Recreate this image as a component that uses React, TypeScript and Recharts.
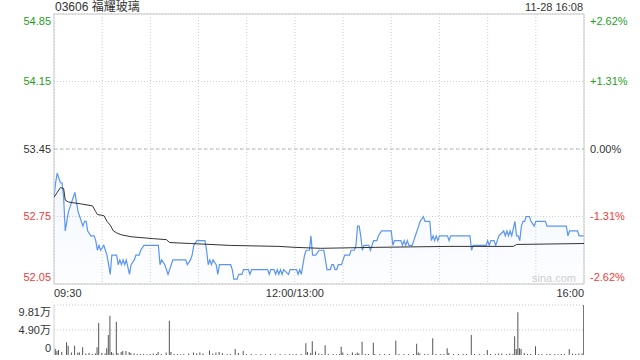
import React from 'react';
import {
  ComposedChart,
  BarChart,
  Area,
  Line,
  Bar,
  XAxis,
  YAxis,
  CartesianGrid,
  ReferenceArea,
  ReferenceLine,
} from 'recharts';

// 03606 福耀玻璃, intraday 11-28
const prevClose = 53.45;

const priceTimes = [
  '09:30', '09:31', '09:32', '09:33', '09:34', '09:35', '09:36', '09:37', '09:39', '09:40',
  '09:42', '09:43', '09:44', '09:45', '09:46', '09:48', '09:49', '09:50', '09:51', '09:53',
  '09:55', '09:56', '09:57', '09:58', '09:59', '10:01', '10:02', '10:03', '10:04', '10:05',
  '10:06', '10:09', '10:10', '10:11', '10:12', '10:13', '10:14', '10:15', '10:17', '10:18',
  '10:20', '10:21', '10:23', '10:24', '10:26', '10:35', '10:36', '10:37', '10:39', '10:41',
  '10:43', '10:44', '10:52', '10:53', '10:55', '10:56', '10:57', '10:59', '11:04', '11:05',
  '11:06', '11:07', '11:08', '11:09', '11:11', '11:12', '11:13', '11:20', '11:21', '11:22',
  '11:24', '11:25', '11:27', '11:28', '11:31', '11:32', '11:33', '11:43', '11:44', '11:45',
  '11:47', '11:48', '11:49', '11:50', '11:51', '11:52', '11:53', '11:56', '11:57', '12:00',
  '13:01', '13:02', '13:03', '13:04', '13:05', '13:06', '13:07', '13:09', '13:10', '13:11',
  '13:13', '13:15', '13:18', '13:19', '13:20', '13:22', '13:23', '13:24', '13:25', '13:26',
  '13:27', '13:29', '13:30', '13:31', '13:34', '13:35', '13:37', '13:38', '13:39', '13:40',
  '13:41', '13:42', '13:43', '13:46', '13:47', '13:48', '13:49', '13:51', '13:52', '13:54',
  '14:00', '14:01', '14:02', '14:06', '14:07', '14:08', '14:09', '14:10', '14:11', '14:13',
  '14:14', '14:15', '14:17', '14:18', '14:20', '14:21', '14:24', '14:25', '14:26', '14:27',
  '14:28', '14:29', '14:30', '14:35', '14:36', '14:37', '14:49', '14:50', '14:51', '14:59',
  '15:00', '15:01', '15:02', '15:04', '15:05', '15:06', '15:07', '15:10', '15:11', '15:12',
  '15:13', '15:14', '15:15', '15:17', '15:18', '15:19', '15:20', '15:21', '15:22', '15:23',
  '15:24', '15:26', '15:27', '15:29', '15:30', '15:36', '15:37', '15:49', '15:50', '15:51',
  '15:56', '15:57', '16:00',
];

const priceValues = [
  52.95, 53.1, 53.2, 53.15, 53.1, 53.1, 52.95, 52.6, 52.8, 52.85,
  52.95, 53.0, 52.9, 52.8, 52.75, 52.65, 52.7, 52.7, 52.6, 52.55,
  52.55, 52.5, 52.4, 52.45, 52.4, 52.45, 52.4, 52.35, 52.25, 52.15,
  52.35, 52.35, 52.25, 52.3, 52.25, 52.3, 52.25, 52.3, 52.15, 52.25,
  52.3, 52.35, 52.35, 52.4, 52.45, 52.45, 52.25, 52.3, 52.25, 52.15,
  52.25, 52.3, 52.3, 52.25, 52.3, 52.35, 52.45, 52.5, 52.5, 52.4,
  52.25, 52.3, 52.25, 52.3, 52.25, 52.15, 52.25, 52.25, 52.2, 52.1,
  52.1, 52.15, 52.15, 52.2, 52.2, 52.15, 52.2, 52.2, 52.15, 52.2,
  52.2, 52.15, 52.2, 52.15, 52.2, 52.15, 52.2, 52.15, 52.2, 52.2,
  52.2, 52.15, 52.2, 52.15, 52.25, 52.35, 52.4, 52.4, 52.55, 52.35,
  52.35, 52.4, 52.4, 52.3, 52.2, 52.2, 52.25, 52.25, 52.2, 52.2,
  52.25, 52.25, 52.3, 52.35, 52.35, 52.4, 52.4, 52.45, 52.65, 52.65,
  52.55, 52.4, 52.45, 52.45, 52.4, 52.45, 52.5, 52.5, 52.55, 52.6,
  52.6, 52.45, 52.5, 52.5, 52.45, 52.5, 52.45, 52.5, 52.45, 52.45,
  52.5, 52.55, 52.65, 52.7, 52.75, 52.7, 52.7, 52.5, 52.55, 52.5,
  52.55, 52.5, 52.55, 52.55, 52.5, 52.55, 52.55, 52.4, 52.45, 52.45,
  52.5, 52.45, 52.5, 52.5, 52.45, 52.5, 52.55, 52.6, 52.55, 52.6,
  52.55, 52.6, 52.55, 52.7, 52.55, 52.55, 52.5, 52.65, 52.7, 52.7,
  52.75, 52.75, 52.7, 52.65, 52.7, 52.7, 52.65, 52.65, 52.55, 52.6,
  52.6, 52.55, 52.55,
];

const avgTimes = [
  '09:30', '09:32', '09:34', '09:36', '09:37', '09:39', '09:47', '09:54', '09:56', '09:57',
  '10:01', '10:03', '10:05', '10:07', '10:09', '10:12', '10:18', '10:32', '10:40', '10:42',
  '10:55', '11:20', '11:50', '12:00', '13:16', '13:50', '14:36', '15:16', '15:18', '16:00',
];
const avgValues = [
  52.95, 53.0, 53.05, 53.04, 52.92, 52.9, 52.88, 52.86, 52.8, 52.77,
  52.76, 52.7, 52.66, 52.6, 52.58, 52.56, 52.54, 52.52, 52.51, 52.48,
  52.47, 52.45, 52.44, 52.43, 52.42, 52.43, 52.44, 52.44, 52.46, 52.47,
];

const volumeTimes = [
  '09:30', '09:31', '09:32', '09:33', '09:35', '09:38', '09:39', '09:41', '09:43', '09:45',
  '09:46', '09:48', '09:50', '09:52', '09:54', '09:56', '09:57', '09:58', '10:00', '10:02',
  '10:03', '10:04', '10:05', '10:06', '10:07', '10:09', '10:10', '10:12', '10:13', '10:15',
  '10:17', '10:18', '10:20', '10:22', '10:24', '10:26', '10:28', '10:30', '10:32', '10:34',
  '10:35', '10:37', '10:40', '10:42', '10:43', '10:45', '10:47', '10:49', '10:51', '10:54',
  '10:57', '10:59', '11:01', '11:03', '11:07', '11:09', '11:11', '11:13', '11:15', '11:18',
  '11:20', '11:23', '11:25', '11:28', '11:30', '11:33', '11:36', '11:39', '11:42', '11:45',
  '11:48', '11:51', '11:54', '11:57', '11:59', '13:01', '13:04', '13:07', '13:08', '13:10',
  '13:11', '13:13', '13:15', '13:17', '13:19', '13:21', '13:24', '13:26', '13:28', '13:29',
  '13:30', '13:33', '13:36', '13:38', '13:39', '13:40', '13:42', '13:44', '13:46', '13:49',
  '13:50', '13:53', '13:56', '13:59', '14:03', '14:05', '14:08', '14:11', '14:14', '14:16',
  '14:17', '14:18', '14:21', '14:23', '14:26', '14:28', '14:31', '14:33', '14:35', '14:36',
  '14:39', '14:42', '14:45', '14:47', '14:50', '14:52', '14:55', '14:58', '15:00', '15:02',
  '15:05', '15:07', '15:09', '15:12', '15:14', '15:16', '15:17', '15:18', '15:19', '15:20',
  '15:21', '15:23', '15:25', '15:27', '15:30', '15:32', '15:34', '15:37', '15:39', '15:42',
  '15:44', '15:46', '15:48', '15:51', '15:53', '15:55', '15:57', '15:59', '16:00',
];
const volumeValues = [
  14000, 12000, 8000, 10000, 6000, 25000, 18000, 5000, 18000, 5000,
  5000, 15000, 3000, 4000, 2000, 3000, 15000, 63000, 4000, 3000,
  13000, 39000, 77000, 6000, 3000, 65000, 4000, 6000, 8000, 8000,
  6000, 4000, 3000, 2000, 2000, 2000, 1500, 2000, 3000, 2000,
  6000, 2000, 5000, 67000, 6000, 2000, 2000, 1500, 2000, 3000,
  5000, 3000, 5000, 3000, 9000, 3000, 5000, 6000, 4000, 2000,
  2000, 12000, 4000, 8000, 2000, 2000, 1500, 2000, 1500, 2000,
  1500, 2000, 1500, 2000, 1500, 2000, 2000, 23000, 6000, 4000,
  27000, 7000, 3000, 2000, 19000, 2000, 2000, 1500, 2000, 16000,
  5000, 2000, 5000, 2000, 5000, 3000, 26000, 2000, 2000, 24000,
  2000, 2000, 2000, 2000, 28000, 2000, 2000, 2000, 2000, 22000,
  5000, 3000, 2000, 2000, 33000, 2000, 2000, 2000, 13000, 4000,
  2000, 2000, 2000, 2000, 39000, 2000, 2000, 1500, 10000, 2000,
  2000, 3000, 3000, 2000, 3000, 2000, 37000, 12000, 84000, 13000,
  12000, 4000, 2000, 2000, 17000, 2000, 2000, 2000, 2000, 2000,
  1500, 2000, 2000, 12000, 3000, 2000, 3000, 3000, 98100,
];

const priceTicks = [52.05, 52.75, 53.45, 54.15, 54.85];
const volumeTicks = [0, 49000, 98100];
const timeTicks = ['09:30', '10:00', '10:30', '11:00', '11:30', '12:00', '13:30', '14:00', '14:30', '15:00', '15:30', '16:00'];
const timeLabels: Record<string, string> = { '09:30': '09:30', '12:00': '12:00/13:00', '16:00': '16:00' };

// trading minutes since open, lunch break removed
const toMinute = (t: string) => {
  const [h, m] = t.split(':').map(Number);
  const v = h * 60 + m;
  return v >= 13 * 60 ? v - 13 * 60 + 150 : v - (9 * 60 + 30);
};

const priceData = priceTimes.map((t, i) => ({ m: toMinute(t), p: priceValues[i] }));
const avgData = avgTimes.map((t, i) => ({ m: toMinute(t), a: avgValues[i] }));
const volumeData = volumeTimes.map((t, i) => ({ m: toMinute(t), v: volumeValues[i] }));
const minuteTicks = timeTicks.map(toMinute);

const FONT = "Arial, 'Liberation Sans', 'Noto Sans CJK SC', sans-serif";
const GREEN = '#1ea01e';
const RED = '#f23a3a';
const TEXT = '#333';
const PLOT_BOTTOM = 284;

const colorFor = (v: number) => (v > prevClose + 1e-6 ? GREEN : v < prevClose - 1e-6 ? RED : TEXT);
const edgeShift = (v: number, lo: number, hi: number) => (v === hi ? 7 : v === lo ? -7 : 0);

const PriceTick = (props: any) => {
  const v = props.payload.value as number;
  return (
    <text x={51} y={props.y + edgeShift(v, 52.05, 54.85)} dy="0.35em" textAnchor="end" fontSize={11} fontFamily={FONT} fill={colorFor(v)}>
      {v.toFixed(2)}
    </text>
  );
};

const PctTick = (props: any) => {
  const v = props.payload.value as number;
  const pct = ((v - prevClose) / prevClose) * 100;
  const label = (pct > 0.0001 ? '+' : '') + pct.toFixed(2) + '%';
  return (
    <text x={590} y={props.y + edgeShift(v, 52.05, 54.85)} dy="0.35em" textAnchor="start" fontSize={11} fontFamily={FONT} fill={colorFor(v)}>
      {label}
    </text>
  );
};

const TimeTick = (props: any) => {
  const v = props.payload.value as number;
  const key = timeTicks[minuteTicks.indexOf(v)];
  const label = timeLabels[key];
  if (!label) return null;
  const anchor = v === 0 ? 'start' : v === 330 ? 'end' : 'middle';
  return (
    <text x={props.x} y={PLOT_BOTTOM + 13} textAnchor={anchor} fontSize={11} fontFamily={FONT} fill={TEXT}>
      {label}
    </text>
  );
};

const VolumeTick = (props: any) => {
  const v = props.payload.value as number;
  const label = v === 0 ? '0' : (v / 10000).toFixed(2) + '万';
  return (
    <text x={51} y={props.y + edgeShift(v, 0, 98100)} dy="0.35em" textAnchor="end" fontSize={11} fontFamily={FONT} fill={TEXT}>
      {label}
    </text>
  );
};

export default function App() {
  return (
    <div style={{ position: 'absolute', left: 0, top: 0, width: 640, height: 360, background: '#fff', fontFamily: FONT }}>
      <div style={{ position: 'absolute', left: 55, top: 0, fontSize: 12, lineHeight: '14px', color: TEXT }}>03606 福耀玻璃</div>
      <div style={{ position: 'absolute', right: 57, top: 1, fontSize: 11, lineHeight: '13px', color: TEXT }}>11-28 16:08</div>
      <div style={{ position: 'absolute', left: 532, top: 272, fontSize: 11, lineHeight: '13px', color: '#cfcfcf' }}>sina.com</div>

      <div style={{ position: 'absolute', left: 0, top: 0 }}>
        <ComposedChart width={640} height={300} margin={{ top: 14, right: 0, bottom: 0, left: 0 }}>
          <defs>
            <linearGradient id="priceFill" x1="0" y1="0" x2="0" y2="1">
              <stop offset="0%" stopColor="#5a96f0" stopOpacity={0.14} />
              <stop offset="100%" stopColor="#5a96f0" stopOpacity={0.02} />
            </linearGradient>
          </defs>
          <CartesianGrid stroke="#cfcfcf" strokeDasharray="1 2" />
          <XAxis
            dataKey="m"
            type="number"
            domain={[0, 330]}
            allowDataOverflow
            ticks={minuteTicks}
            interval={0}
            height={16}
            axisLine={false}
            tickLine={false}
            tick={<TimeTick />}
          />
          <YAxis
            type="number"
            domain={[52.05, 54.85]}
            allowDataOverflow
            ticks={priceTicks}
            interval={0}
            width={54}
            axisLine={false}
            tickLine={false}
            tick={<PriceTick />}
          />
          <YAxis
            yAxisId="pct"
            orientation="right"
            type="number"
            domain={[52.05, 54.85]}
            allowDataOverflow
            ticks={priceTicks}
            interval={0}
            width={56}
            axisLine={false}
            tickLine={false}
            tick={<PctTick />}
          />
          <ReferenceLine y={prevClose} stroke="#b8b8b8" strokeDasharray="3 3" />
          <Area
            data={priceData}
            dataKey="p"
            type="linear"
            stroke="#5a96f0"
            strokeWidth={1.2}
            fill="url(#priceFill)"
            dot={false}
            activeDot={false}
            isAnimationActive={false}
          />
          <Line
            data={avgData}
            dataKey="a"
            type="linear"
            stroke="#333"
            strokeWidth={1}
            dot={false}
            activeDot={false}
            isAnimationActive={false}
          />
          <ReferenceArea x1={0} x2={330} y1={52.05} y2={54.85} fill="none" stroke="#c8c8c8" ifOverflow="visible" />
        </ComposedChart>
      </div>

      <div style={{ position: 'absolute', left: 0, top: 300 }}>
        <BarChart width={640} height={60} data={volumeData} margin={{ top: 5, right: 56, bottom: 5, left: 0 }} barCategoryGap={0}>
          <XAxis dataKey="m" type="number" domain={[0, 330]} allowDataOverflow hide />
          <YAxis
            type="number"
            domain={[0, 98100]}
            allowDataOverflow
            ticks={volumeTicks}
            interval={0}
            width={54}
            axisLine={{ stroke: '#d0d0d0' }}
            tickLine={false}
            tick={<VolumeTick />}
          />
          <ReferenceLine y={98100} stroke="#c8c8c8" strokeDasharray="1 2" />
          <ReferenceLine y={49000} stroke="#c8c8c8" strokeDasharray="1 2" />
          <Bar dataKey="v" fill="#555" barSize={1} isAnimationActive={false} />
        </BarChart>
      </div>
    </div>
  );
}
